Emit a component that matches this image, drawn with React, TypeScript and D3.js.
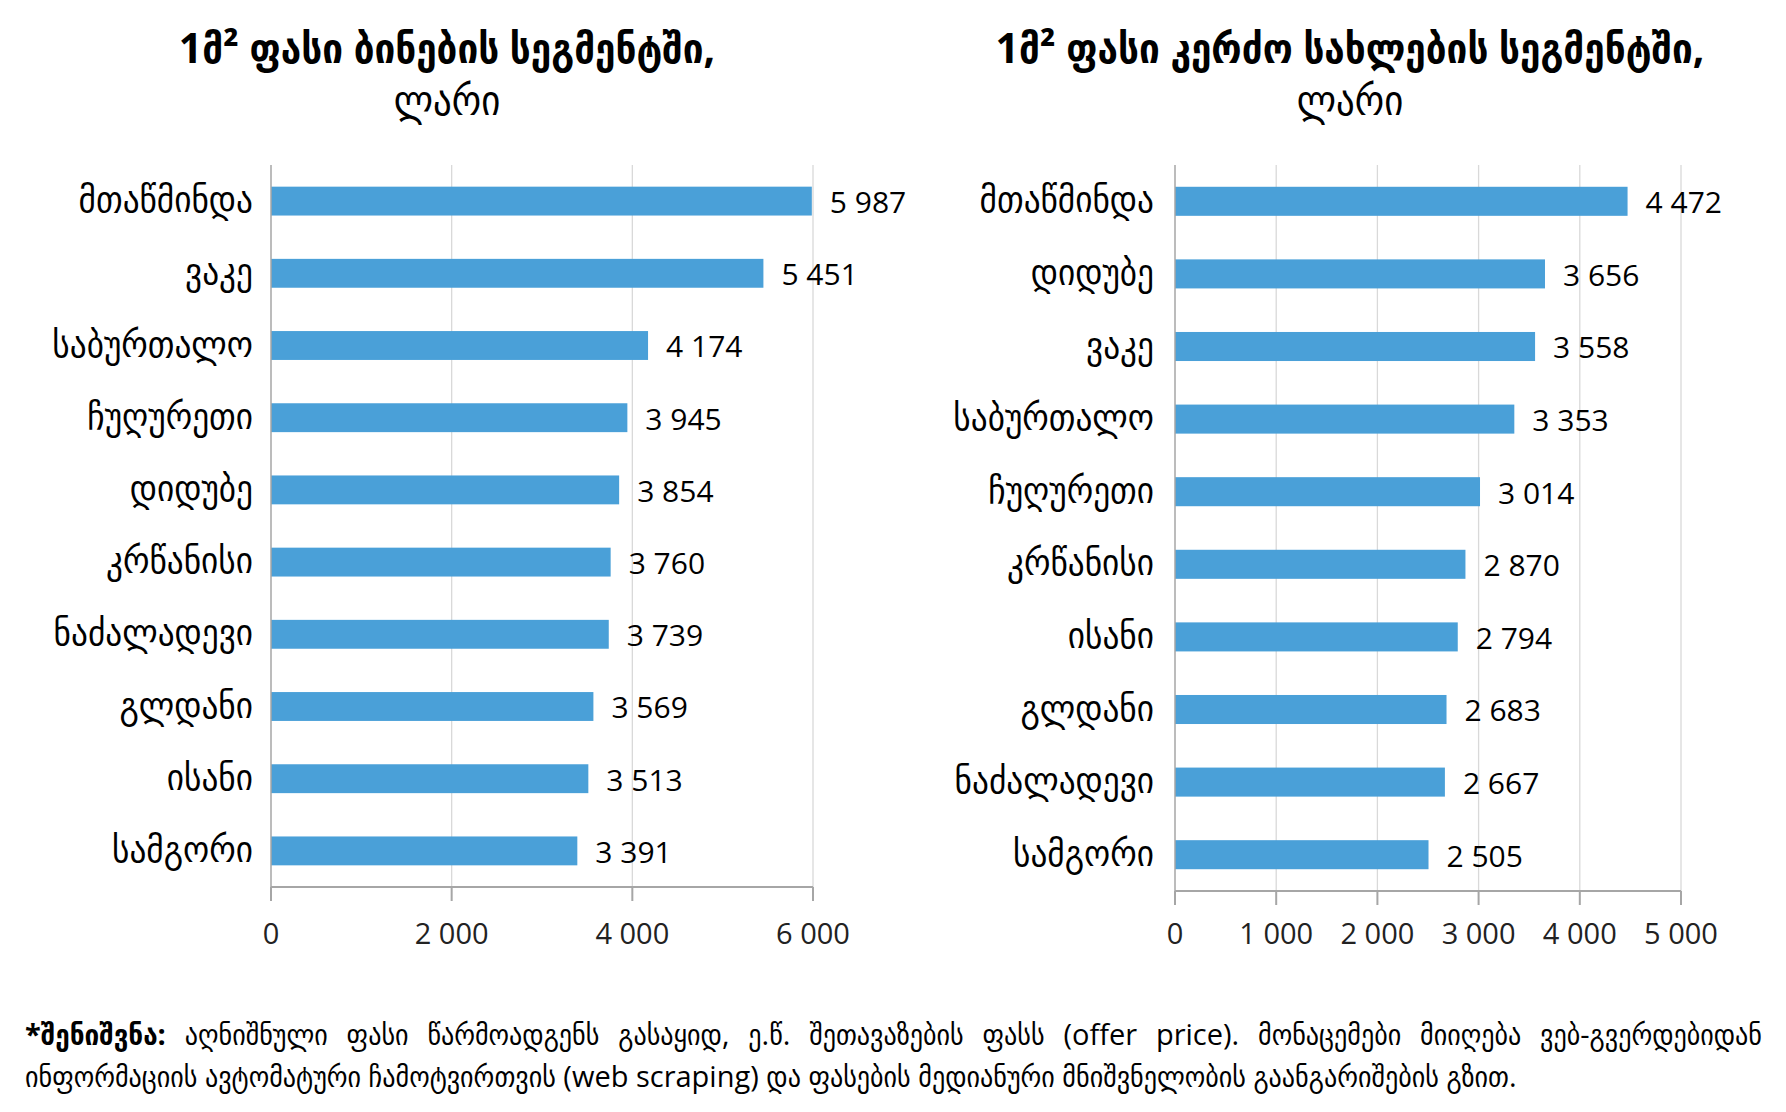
import React, { useEffect, useRef } from "react";
import * as d3 from "d3";

// flats segment
const flatDistricts = ["მთაწმინდა", "ვაკე", "საბურთალო", "ჩუღურეთი", "დიდუბე", "კრწანისი", "ნაძალადევი", "გლდანი", "ისანი", "სამგორი"];
const flatPrices = [5987, 5451, 4174, 3945, 3854, 3760, 3739, 3569, 3513, 3391];
const flatTicks = [0, 2000, 4000, 6000];
const flatTitle = ["1მ² ფასი ბინების სეგმენტში,", "ლარი"];

// private houses segment
const houseDistricts = ["მთაწმინდა", "დიდუბე", "ვაკე", "საბურთალო", "ჩუღურეთი", "კრწანისი", "ისანი", "გლდანი", "ნაძალადევი", "სამგორი"];
const housePrices = [4472, 3656, 3558, 3353, 3014, 2870, 2794, 2683, 2667, 2505];
const houseTicks = [0, 1000, 2000, 3000, 4000, 5000];
const houseTitle = ["1მ² ფასი კერძო სახლების სეგმენტში,", "ლარი"];

const noteBold = "*შენიშვნა:";
const noteLine1 = "აღნიშნული ფასი წარმოადგენს გასაყიდ, ე.წ. შეთავაზების ფასს (offer price). მონაცემები მიიღება ვებ-გვერდებიდან";
const noteLine2 = "ინფორმაციის ავტომატური ჩამოტვირთვის (web scraping) და ფასების მედიანური მნიშვნელობის გაანგარიშების გზით.";

const FONT = "'Open Sans', 'DejaVu Sans Condensed', 'DejaVu Sans', sans-serif";
const BAR = "#4aa0d8";

const fmt = (v: number) => d3.format(",")(v).replace(/,/g, " ");

function drawPanel(svg: any, opts: any) {
    const { names, values, ticks, title, x0, x1, top, bottom, titleX, labelRight } = opts;
    const g = svg.append("g");

    const x = d3.scaleLinear().domain([0, ticks[ticks.length - 1]]).range([x0, x1]);
    const y = d3.scaleBand().domain(names).range([top, bottom]).paddingInner(0.6).paddingOuter(0.3);

    // title
    g.append("text")
        .attr("x", titleX).attr("y", 63)
        .attr("text-anchor", "middle")
        .attr("font-size", 41).attr("font-weight", "bold")
        .text(title[0]);
    g.append("text")
        .attr("x", titleX).attr("y", 115)
        .attr("text-anchor", "middle")
        .attr("font-size", 41)
        .text(title[1]);

    // grid
    g.selectAll(".grid")
        .data(ticks.slice(1))
        .enter()
        .append("line")
        .attr("x1", (d: number) => x(d)).attr("x2", (d: number) => x(d))
        .attr("y1", top).attr("y2", bottom)
        .attr("stroke", "#d9d9d9").attr("stroke-width", 1.3);

    // bars
    g.selectAll(".bar")
        .data(values)
        .enter()
        .append("rect")
        .attr("x", x0)
        .attr("y", (d: number, i: number) => y(names[i]))
        .attr("width", (d: number) => x(d) - x0)
        .attr("height", y.bandwidth())
        .attr("fill", BAR);

    // value labels
    g.selectAll(".val")
        .data(values)
        .enter()
        .append("text")
        .attr("x", (d: number) => x(d) + 18)
        .attr("y", (d: number, i: number) => (y(names[i]) as number) + y.bandwidth() / 2 + 1)
        .attr("dy", "0.36em")
        .attr("font-size", 30)
        .text((d: number) => fmt(d));

    // category labels
    g.selectAll(".cat")
        .data(names)
        .enter()
        .append("text")
        .attr("x", labelRight)
        .attr("y", (d: string) => (y(d) as number) + y.bandwidth() / 2)
        .attr("dy", "0.3em")
        .attr("text-anchor", "end")
        .attr("font-size", 37)
        .text((d: string) => d);

    // axes
    g.append("line")
        .attr("x1", x0).attr("x2", x0).attr("y1", top).attr("y2", bottom)
        .attr("stroke", "#a6a6a6").attr("stroke-width", 1.5);
    g.append("line")
        .attr("x1", x0).attr("x2", x1).attr("y1", bottom).attr("y2", bottom)
        .attr("stroke", "#a6a6a6").attr("stroke-width", 2);
    g.selectAll(".tick")
        .data(ticks)
        .enter()
        .append("line")
        .attr("x1", (d: number) => x(d)).attr("x2", (d: number) => x(d))
        .attr("y1", bottom).attr("y2", bottom + 14)
        .attr("stroke", "#a6a6a6").attr("stroke-width", 2);
    g.selectAll(".tlabel")
        .data(ticks)
        .enter()
        .append("text")
        .attr("x", (d: number) => x(d))
        .attr("y", 934)
        .attr("dy", "0.36em")
        .attr("text-anchor", "middle")
        .attr("font-size", 29)
        .attr("fill", "#222")
        .text((d: number) => fmt(d));
}

export default function App() {
    const chart = useRef<SVGSVGElement>(null);

    useEffect(() => {
        const svg = d3.select(chart.current)
            .attr("font-family", FONT)
            .attr("fill", "#000");

        drawPanel(svg, {
            names: flatDistricts, values: flatPrices, ticks: flatTicks, title: flatTitle,
            x0: 271, x1: 813, top: 165, bottom: 887, titleX: 447, labelRight: 253
        });
        drawPanel(svg, {
            names: houseDistricts, values: housePrices, ticks: houseTicks, title: houseTitle,
            x0: 1175, x1: 1681, top: 165, bottom: 891, titleX: 1350, labelRight: 1154
        });

        // footnote, first line justified
        const left = 25, right = 1762;
        const l1 = svg.append("text")
            .attr("x", left).attr("y", 1045)
            .attr("font-size", 29);
        l1.append("tspan").attr("font-weight", "bold").text(noteBold + " ");
        l1.append("tspan").text(noteLine1);
        const natural = (l1.node() as SVGTextElement).getComputedTextLength();
        const gaps = (noteBold + " " + noteLine1).split(" ").length - 1;
        l1.attr("word-spacing", Math.max(0, (right - left - natural) / gaps));

        svg.append("text")
            .attr("x", left).attr("y", 1087)
            .attr("font-size", 29)
            .text(noteLine2);

        return () => {
            svg.selectAll("*").remove();
        };
    }, []);

    return (
        <svg ref={chart} width={1786} height={1112}
            style={{ position: "absolute", left: 0, top: 0, background: "#fff" }} />
    );
}
